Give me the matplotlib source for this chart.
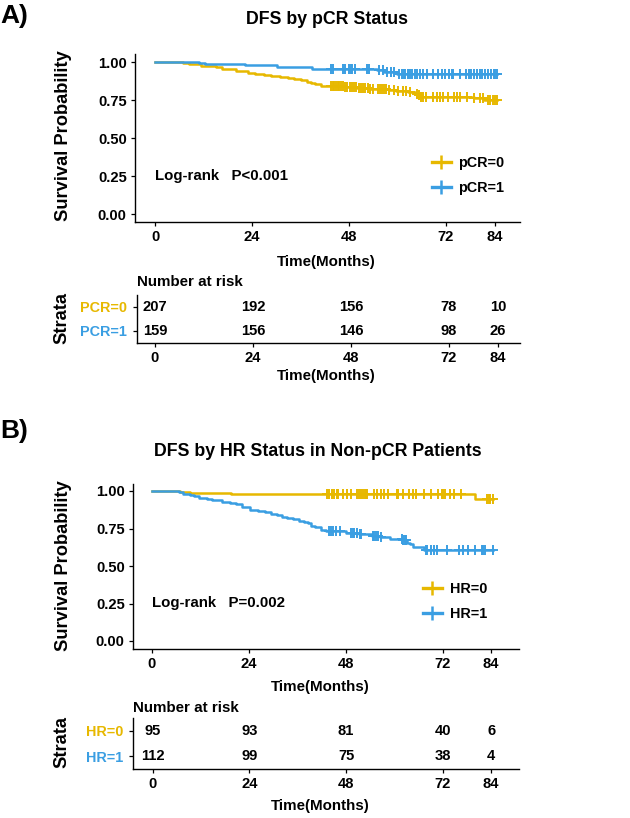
import numpy as np
import matplotlib
matplotlib.use("Agg")
import matplotlib.pyplot as plt
from matplotlib.lines import Line2D

plt.rcParams['font.family'] = ['Liberation Sans', 'DejaVu Sans']
plt.rcParams['font.weight'] = 'bold'

# ---------------- data ----------------
YELLOW = '#E7B800'
BLUE = '#3A9EE2'

risk_times = [0, 24, 48, 72, 84]

# Panel A: DFS by pCR status
a_labels = ['pCR=0', 'pCR=1']
a_strata = ['PCR=0', 'PCR=1']
a0_times = [7.0, 8.5, 10.0, 11.5, 13.0, 15.0, 16.5, 18.0, 20.0, 21.5, 23.0, 24.7, 27.0, 28.8,
            31.0, 33.0, 34.3, 36.0, 37.5, 38.5, 39.5, 41.0, 42.5, 47.0, 50.0, 53.0, 56.0, 58.0,
            59.5, 62.5, 64.3, 65.3, 65.8, 78.8, 81.5]
a0_surv = [0.995, 0.990, 0.985, 0.976, 0.971, 0.966, 0.957, 0.952, 0.943, 0.938, 0.929, 0.920,
           0.914, 0.905, 0.900, 0.895, 0.886, 0.880, 0.871, 0.862, 0.853, 0.845, 0.840, 0.835,
           0.830, 0.825, 0.820, 0.815, 0.810, 0.800, 0.790, 0.780, 0.772, 0.762, 0.753]
a0_cens = [43.6, 44.0, 44.4, 44.8, 45.2, 45.6, 46.0, 46.5, 47.0, 47.5, 48.2, 48.8, 49.3, 49.8,
           50.5, 51.0, 51.5, 52.0, 52.6, 53.2, 54.0, 55.2, 55.7, 56.2, 56.7, 57.2, 58.0, 59.2,
           60.2, 61.4, 62.0, 63.0, 64.9, 65.4, 65.9, 66.4, 67.0, 68.7, 69.8, 70.5, 71.2, 72.5,
           74.0, 74.8, 75.5, 77.2, 78.8, 80.5, 81.2, 82.4, 83.0, 83.6, 84.1, 84.5]
a1_times = [11.0, 12.4, 22.3, 30.2, 38.8, 55.0, 56.7, 59.8]
a1_surv = [0.994, 0.987, 0.981, 0.968, 0.955, 0.946, 0.934, 0.922]
a1_cens = [43.6, 44.0, 46.4, 47.0, 48.1, 48.4, 48.8, 49.5, 52.5, 52.9, 55.3, 56.3, 57.3, 58.4,
           59.1, 60.4, 61.1, 61.5, 61.8, 62.5, 63.2, 63.5, 64.2, 64.9, 65.6, 66.3, 67.3, 68.7,
           70.1, 71.1, 71.8, 72.8, 73.5, 73.8, 75.5, 76.9, 77.6, 78.3, 79.0, 79.7, 80.4, 81.0,
           81.7, 82.4, 83.1, 83.8, 84.1, 84.5]
a0_risk = [207, 192, 156, 78, 10]
a1_risk = [159, 156, 146, 98, 26]

# Panel B: DFS by HR status in non-pCR patients
b_labels = ['HR=0', 'HR=1']
b_strata = ['HR=0', 'HR=1']
b0_times = [7.1, 9.5, 19.5, 80.0]
b0_surv = [0.994, 0.989, 0.978, 0.944]
b0_cens = [43.5, 44.0, 44.5, 45.2, 45.8, 46.2, 47.3, 48.3, 49.3, 50.7, 51.2, 51.7, 52.4, 52.7,
           53.1, 53.4, 55.1, 55.8, 56.8, 57.5, 58.5, 60.6, 60.9, 62.3, 63.7, 64.7, 65.4, 67.4,
           69.1, 70.8, 71.9, 72.2, 72.5, 73.9, 74.9, 76.6, 83.1, 83.5, 83.8, 84.5]
b1_times = [6.8, 7.7, 9.6, 10.5, 11.8, 13.8, 15.0, 17.5, 19.3, 20.8, 22.4, 24.3, 26.2, 28.0,
            29.5, 31.0, 32.2, 33.5, 35.0, 36.5, 37.7, 38.6, 39.4, 40.5, 41.8, 43.2, 48.0, 51.4,
            54.4, 56.5, 58.9, 62.3, 63.3, 64.0, 64.7, 67.4]
b1_surv = [0.991, 0.982, 0.973, 0.964, 0.955, 0.946, 0.938, 0.929, 0.920, 0.911, 0.893, 0.875,
           0.866, 0.857, 0.848, 0.839, 0.830, 0.821, 0.812, 0.803, 0.794, 0.785, 0.767, 0.758,
           0.740, 0.731, 0.722, 0.712, 0.702, 0.692, 0.682, 0.671, 0.656, 0.644, 0.627, 0.606]
b1_cens = [43.9, 44.4, 44.9, 45.6, 46.6, 49.3, 49.7, 50.1, 50.7, 51.6, 51.9, 54.8, 55.1, 55.5,
           56.1, 56.8, 62.0, 62.3, 62.6, 63.0, 67.8, 68.1, 69.1, 69.8, 70.5, 73.2, 76.0, 77.0,
           78.3, 80.1, 81.8, 82.1, 82.4, 84.5]
b0_risk = [95, 93, 81, 40, 6]
b1_risk = [112, 99, 75, 38, 4]

# ---------------- layout helpers ----------------
W, H = 630, 818
fig = plt.figure(figsize=(W / 100, H / 100), dpi=100)


def rect(l, t, r, b):
    return [l / W, 1 - b / H, (r - l) / W, (b - t) / H]


def ftext(x, y, s, **kw):
    fig.text(x / W, 1 - y / H, s, **kw)


def style_axes(ax):
    for side in ['top', 'right']:
        ax.spines[side].set_visible(False)
    for side in ['left', 'bottom']:
        ax.spines[side].set_linewidth(1.0)
    ax.tick_params(direction='out', length=3, width=0.9, labelsize=10.6, pad=3)


def km(ax, times, surv, cens, color):
    end = max(max(cens), times[-1])
    x = [0] + list(times) + [end]
    y = [1.0] + list(surv) + [surv[-1]]
    ax.step(x, y, where='post', color=color, lw=1.8)
    t = np.asarray(times)
    s = np.asarray(surv)
    idx = np.searchsorted(t, cens, side='right')
    cy = np.where(idx > 0, s[np.maximum(idx - 1, 0)], 1.0)
    ax.plot(cens, cy, ls='none', marker='+', ms=7, mew=1.4, color=color)


def main_panel(r, xlim, curves, labels, ptext, legend_anchor):
    ax = fig.add_axes(rect(*r))
    for (t, s, c), col in zip(curves, [YELLOW, BLUE]):
        km(ax, t, s, c, col)
    ax.set_xlim(*xlim)
    ax.set_ylim(-0.05, 1.05)
    ax.set_xticks(risk_times)
    ax.set_yticks([0, 0.25, 0.5, 0.75, 1.0])
    ax.set_yticklabels(['0.00', '0.25', '0.50', '0.75', '1.00'])
    style_axes(ax)
    ax.text(0, 0.25, ptext, ha='left', va='center', fontsize=10.8)
    handles = [Line2D([], [], color=c, lw=2.4, marker='+', ms=10, mew=1.8)
               for c in [YELLOW, BLUE]]
    ax.legend(handles, labels, loc='center left', bbox_to_anchor=legend_anchor,
              frameon=False, borderpad=0, borderaxespad=0, handlelength=1.3,
              handletextpad=0.55, labelspacing=0.75, numpoints=1,
              prop={'size': 10.4, 'weight': 'bold'})
    return ax


def table_panel(r, xlim, risks, strata):
    ax = fig.add_axes(rect(*r))
    ax.set_xlim(*xlim)
    ax.set_ylim(0.5, 2.5)
    for row, vals in zip([2, 1], risks):
        for t, n in zip(risk_times, vals):
            ax.text(t, row, str(n), ha='center', va='center', fontsize=10.6)
    ax.set_xticks(risk_times)
    ax.set_yticks([2, 1])
    ax.set_yticklabels(strata)
    style_axes(ax)
    ax.tick_params(axis='y', labelsize=10.4, pad=4)
    for lbl, c in zip(ax.get_yticklabels(), [YELLOW, BLUE]):
        lbl.set_color(c)
    return ax


# ---------------- Panel A ----------------
ftext(0, 16, 'A)', fontsize=19, ha='left', va='center')
ftext(327, 20, 'DFS by pCR Status', fontsize=12.8, ha='center', va='center')
main_panel((135, 54.4, 520, 221.6), (-4.95, 90.3),
           [(a0_times, a0_surv, a0_cens), (a1_times, a1_surv, a1_cens)],
           a_labels, 'Log-rank   P<0.001', (0.771, 0.276))
ftext(63, 136, 'Survival Probability', fontsize=13.2, rotation=90, ha='center', va='center')
ftext(326, 262, 'Time(Months)', fontsize=10.9, ha='center', va='center')
ftext(137, 282, 'Number at risk', fontsize=10.9, ha='left', va='center')
table_panel((137, 295, 520, 343), (-4.4, 89.4), [a0_risk, a1_risk], a_strata)
ftext(62, 318, 'Strata', fontsize=13.2, rotation=90, ha='center', va='center')
ftext(326, 376, 'Time(Months)', fontsize=10.9, ha='center', va='center')

# ---------------- Panel B ----------------
ftext(0, 431, 'B)', fontsize=19, ha='left', va='center')
ftext(318, 452, 'DFS by HR Status in Non-pCR Patients', fontsize=12.8, ha='center', va='center')
main_panel((133, 483.5, 519, 648.5), (-4.63, 90.9),
           [(b0_times, b0_surv, b0_cens), (b1_times, b1_surv, b1_cens)],
           b_labels, 'Log-rank   P=0.002', (0.751, 0.285))
ftext(63, 566, 'Survival Probability', fontsize=13.2, rotation=90, ha='center', va='center')
ftext(320, 687, 'Time(Months)', fontsize=10.9, ha='center', va='center')
ftext(133, 708, 'Number at risk', fontsize=10.9, ha='left', va='center')
table_panel((133, 718, 519, 769), (-4.9, 90.9), [b0_risk, b1_risk], b_strata)
ftext(62, 742, 'Strata', fontsize=13.2, rotation=90, ha='center', va='center')
ftext(320, 806, 'Time(Months)', fontsize=10.9, ha='center', va='center')

fig.savefig('out.png', dpi=100)
